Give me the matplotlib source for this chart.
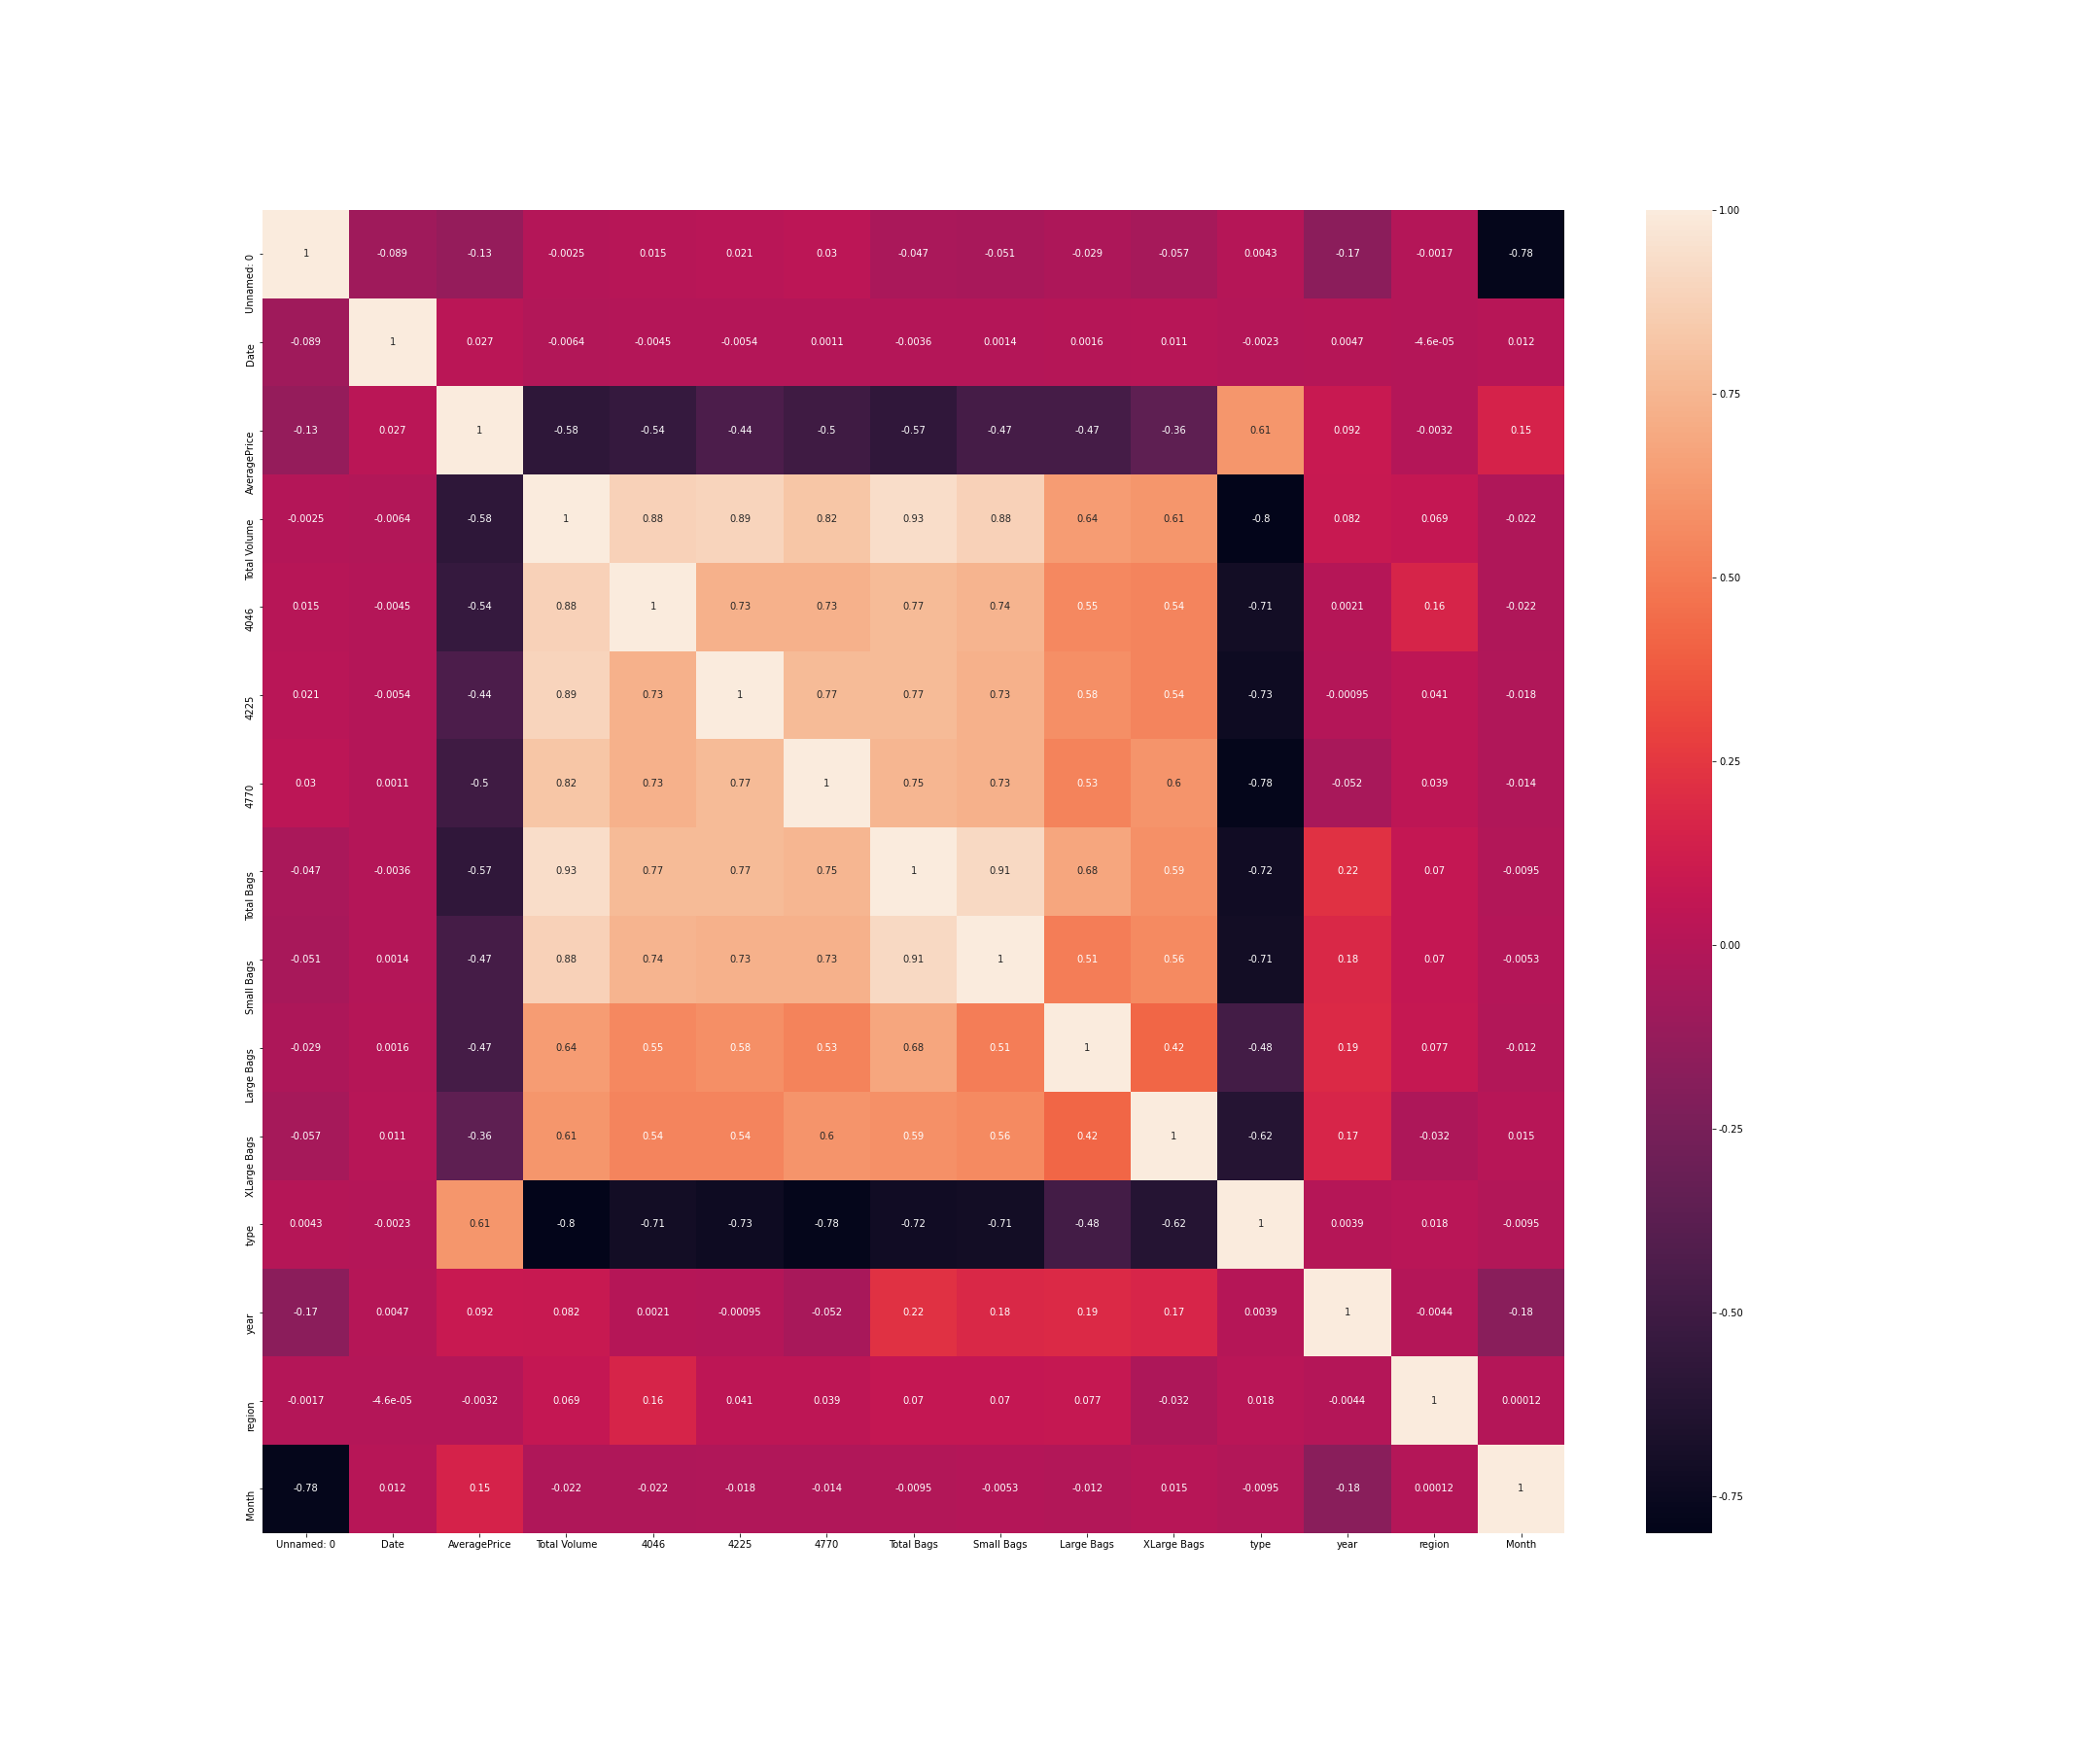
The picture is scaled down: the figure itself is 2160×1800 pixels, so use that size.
import numpy as np
import pandas as pd
import matplotlib
matplotlib.use('Agg')
import matplotlib.pyplot as plt
import seaborn as sns

# column names of the correlation matrix
labels = ['Unnamed: 0', 'Date', 'AveragePrice', 'Total Volume', '4046', '4225', '4770',
          'Total Bags', 'Small Bags', 'Large Bags', 'XLarge Bags', 'type', 'year', 'region', 'Month']

# correlation values, row by row
unnamed = [1, -0.089, -0.13, -0.0025, 0.015, 0.021, 0.03, -0.047, -0.051, -0.029, -0.057, 0.0043, -0.17, -0.0017, -0.78]
date = [-0.089, 1, 0.027, -0.0064, -0.0045, -0.0054, 0.0011, -0.0036, 0.0014, 0.0016, 0.011, -0.0023, 0.0047, -4.6e-05, 0.012]
avg_price = [-0.13, 0.027, 1, -0.58, -0.54, -0.44, -0.5, -0.57, -0.47, -0.47, -0.36, 0.61, 0.092, -0.0032, 0.15]
total_volume = [-0.0025, -0.0064, -0.58, 1, 0.88, 0.89, 0.82, 0.93, 0.88, 0.64, 0.61, -0.8, 0.082, 0.069, -0.022]
p4046 = [0.015, -0.0045, -0.54, 0.88, 1, 0.73, 0.73, 0.77, 0.74, 0.55, 0.54, -0.71, 0.0021, 0.16, -0.022]
p4225 = [0.021, -0.0054, -0.44, 0.89, 0.73, 1, 0.77, 0.77, 0.73, 0.58, 0.54, -0.73, -0.00095, 0.041, -0.018]
p4770 = [0.03, 0.0011, -0.5, 0.82, 0.73, 0.77, 1, 0.75, 0.73, 0.53, 0.6, -0.78, -0.052, 0.039, -0.014]
total_bags = [-0.047, -0.0036, -0.57, 0.93, 0.77, 0.77, 0.75, 1, 0.91, 0.68, 0.59, -0.72, 0.22, 0.07, -0.0095]
small_bags = [-0.051, 0.0014, -0.47, 0.88, 0.74, 0.73, 0.73, 0.91, 1, 0.51, 0.56, -0.71, 0.18, 0.07, -0.0053]
large_bags = [-0.029, 0.0016, -0.47, 0.64, 0.55, 0.58, 0.53, 0.68, 0.51, 1, 0.42, -0.48, 0.19, 0.077, -0.012]
xlarge_bags = [-0.057, 0.011, -0.36, 0.61, 0.54, 0.54, 0.6, 0.59, 0.56, 0.42, 1, -0.62, 0.17, -0.032, 0.015]
avo_type = [0.0043, -0.0023, 0.61, -0.8, -0.71, -0.73, -0.78, -0.72, -0.71, -0.48, -0.62, 1, 0.0039, 0.018, -0.0095]
year = [-0.17, 0.0047, 0.092, 0.082, 0.0021, -0.00095, -0.052, 0.22, 0.18, 0.19, 0.17, 0.0039, 1, -0.0044, -0.18]
region = [-0.0017, -4.6e-05, -0.0032, 0.069, 0.16, 0.041, 0.039, 0.07, 0.07, 0.077, -0.032, 0.018, -0.0044, 1, 0.00012]
month = [-0.78, 0.012, 0.15, -0.022, -0.022, -0.018, -0.014, -0.0095, -0.0053, -0.012, 0.015, -0.0095, -0.18, 0.00012, 1]

rows = [unnamed, date, avg_price, total_volume, p4046, p4225, p4770, total_bags,
        small_bags, large_bags, xlarge_bags, avo_type, year, region, month]
corr = pd.DataFrame(rows, index=labels, columns=labels)

# colorbar ticks
cbar_ticks = [-0.75, -0.5, -0.25, 0.0, 0.25, 0.5, 0.75, 1.0]

# plot heatmap
fig, ax = plt.subplots(figsize=(30, 25), dpi=72)
sns.heatmap(corr, annot=True, ax=ax,
            cbar_kws={'ticks': cbar_ticks, 'format': '%.2f'})
plt.setp(ax.get_yticklabels(), va='top')  # labels hang below the tick
fig.subplots_adjust(bottom=0.124)
fig.savefig('out.png', dpi=72)
